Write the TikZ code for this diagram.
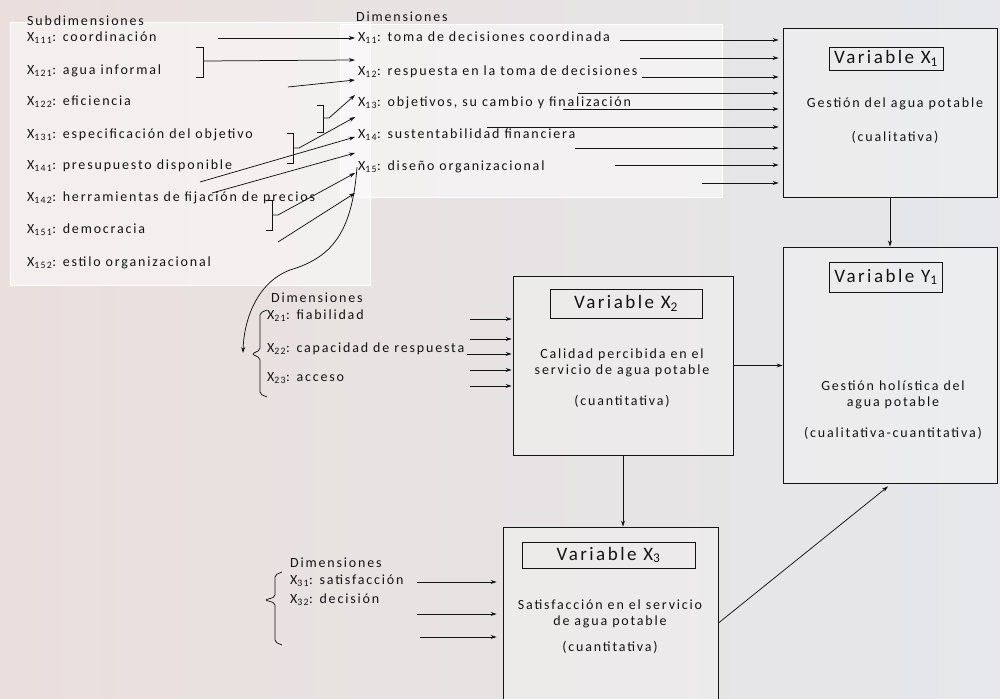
\documentclass[tikz,border=0pt]{standalone}
\usepackage{fontspec}
\setmainfont{Carlito}[LetterSpace=13]
\usetikzlibrary{arrows.meta}
\definecolor{ink}{HTML}{141414}
\definecolor{bgl}{HTML}{EADFDD}
\definecolor{bgr}{HTML}{E5E7EA}
\newcommand{\Xs}[1]{X\textsubscript{#1}}
\begin{document}
\begin{tikzpicture}[x=1pt,y=-1pt,
		txt/.style={anchor=west,inner sep=1pt,text=ink,font=\fontsize{14}{16}\selectfont},
		mid/.style={align=center,inner sep=1pt,text=ink,font=\fontsize{14}{16}\selectfont},
		bigbox/.style={draw=ink,line width=0.9pt,fill=white,fill opacity=0.25,inner sep=0pt},
		varbox/.style={draw=ink,line width=0.9pt,inner sep=0pt,text=ink,font=\fontsize{19}{20}\selectfont},
		panel/.style={fill=white,fill opacity=0.5,draw=white,line width=1pt},
		con/.style={draw=ink,line width=0.75pt},
		arr/.style={con,-{Stealth[length=6pt,width=4pt]}},
		brk/.style={con,line join=miter}
		]
		\clip (0,0) rectangle (1000,698);
		\shade[left color=bgl,right color=bgr] (0,0) rectangle (1000,698);
		\filldraw[panel] (10,23) rectangle (370,285);
		\filldraw[panel] (340,25) rectangle (722,197);
		
		% subdimensiones
		\node[txt] (s0) at (26,21) {Subdimensiones};
		\node[txt] (s1) at (26,38) {\Xs{111}: coordinación};
		\node[txt] (s2) at (26,71) {\Xs{121}: agua informal};
		\node[txt] (s3) at (26,102) {\Xs{122}: eficiencia};
		\node[txt] (s4) at (26,135) {\Xs{131}: especificación del objetivo};
		\node[txt] (s5) at (26,166) {\Xs{141}: presupuesto disponible};
		\node[txt] (s6) at (26,198) {\Xs{142}: herramientas de fijación de precios};
		\node[txt] (s7) at (26,230) {\Xs{151}: democracia};
		\node[txt] (s8) at (26,263) {\Xs{152}: estilo organizacional};
		
		% dimensiones de X1
		\node[txt] (d0) at (355,17) {Dimensiones};
		\node[txt] (d1) at (357,38) {\Xs{11}: toma de decisiones coordinada};
		\node[txt] (d2) at (357,72) {\Xs{12}: respuesta en la toma de decisiones};
		\node[txt] (d3) at (357,103) {\Xs{13}: objetivos, su cambio y finalización};
		\node[txt] (d4) at (357,135) {\Xs{14}: sustentabilidad financiera};
		\node[txt] (d5) at (357,167) {\Xs{15}: diseño organizacional};
		
		% variables
		\node[bigbox,minimum width=214pt,minimum height=169pt] (x1) at (890,112.5) {};
		\node[varbox,minimum width=114pt,minimum height=23pt] (x1lab) at (886,58.5) {Variable \Xs{1}};
		\node[mid] (x1txt) at (895,104) {Gestión del agua potable};
		\node[mid] (x1kind) at (895,137) {(cualitativa)};
		
		\node[bigbox,minimum width=214pt,minimum height=236pt] (y1) at (890,365) {};
		\node[varbox,minimum width=113pt,minimum height=30pt] (y1lab) at (886,277) {Variable Y\textsubscript{1}};
		\node[mid] (y1txt) at (893,395) {Gestión holística del\\agua potable};
		\node[mid] (y1kind) at (893,433) {(cualitativa-cuantitativa)};
		
		\node[bigbox,minimum width=220pt,minimum height=179pt] (x2) at (623,365.5) {};
		\node[varbox,minimum width=152pt,minimum height=29pt] (x2lab) at (626,303.5) {Variable \Xs{2}};
		\node[mid] (x2txt) at (622,362.5) {Calidad percibida en el\\servicio de agua potable};
		\node[mid] (x2kind) at (622,401) {(cuantitativa)};
		
		\node[bigbox,minimum width=215pt,minimum height=192pt] (x3) at (610.5,623) {};
		\node[varbox,minimum width=173pt,minimum height=26pt] (x3lab) at (608.5,555) {Variable \Xs{3}};
		\node[mid] (x3txt) at (610,613.5) {Satisfacción en el servicio\\de agua potable};
		\node[mid] (x3kind) at (610,647) {(cuantitativa)};
		
		% dimensiones de X2 y X3
		\node[txt] (e0) at (270,298) {Dimensiones};
		\node[txt] (e1) at (266,316) {\Xs{21}: fiabilidad};
		\node[txt] (e2) at (266,349) {\Xs{22}: capacidad de respuesta};
		\node[txt] (e3) at (266,378) {\Xs{23}: acceso};
		\node[txt] (f0) at (289,563) {Dimensiones};
		\node[txt] (f1) at (289,581) {\Xs{31}: satisfacción};
		\node[txt] (f2) at (289,600) {\Xs{32}: decisión};
		
		% corchetes
		\draw[brk] (196,47) -- (203,47) -- (203,77) -- (196,77);
		\draw[brk] (317,105) -- (323,105) -- (323,132) -- (317,132);
		\draw[brk] (287,133) -- (293,133) -- (293,163) -- (287,163);
		\draw[brk] (266,200) -- (272,200) -- (272,230) -- (266,230);
		\draw[brk,rounded corners=2pt] (267,310) -- (260,313) -- (260,350) -- (252,354) -- (260,358) -- (260,394) -- (267,397);
		\draw[brk,rounded corners=2pt] (282,572) -- (275,575) -- (275,597) -- (265,600) -- (275,603) -- (275,642) -- (282,645);
		\coordinate (b1) at (203,61);
		\coordinate (b2) at (323,118);
		\coordinate (b3) at (293,148);
		\coordinate (b4) at (272,215);
		
		% flechas hacia las dimensiones
		\foreach \n/\y in {1/38,2/60,3/80,4/95,5/117,6/137,7/153,8/173,9/193}
		\coordinate (in\n) at (355,\y);
		\coordinate (a1) at (218,38);
		\coordinate (a3) at (288,87);
		\coordinate (a6) at (200,182);
		\coordinate (a7) at (212,193);
		\coordinate (a9) at (278,242);
		\draw[arr] (a1) -- (in1);
		\draw[arr] (b1) -- (in2);
		\draw[arr] (a3) -- (in3);
		\draw[arr] (b2) -- ++(6,0) -- (in4);
		\draw[arr] (b3) -- ++(6,0) -- (in5);
		\draw[arr] (a6) -- (in6);
		\draw[arr] (a7) -- (in7);
		\draw[arr] (b4) -- ++(6,0) -- (in8);
		\draw[arr] (a9) -- (in9);
		
		% flechas hacia X1
		\foreach \n/\y/\s in {1/40/620,2/58/640,3/77/642,4/93/578,5/109/563,6/127/487,7/148/575,8/165/615,9/183/702}{
			\coordinate (o\n) at (\s,\y);
			\draw[arr,shorten >=4pt] (o\n) -- (o\n -| x1.west);
		}
		
		% curva hacia X2
		\coordinate (k2) at (243,353);
		\draw[arr] (d5.west) .. controls (352,235) and (330,258) .. (290,270) .. controls (258,282) and (244,318) .. (k2);
		
		% flechas hacia X2 y X3
		\foreach \n/\y/\s in {1/319/470,2/339/470,3/354/467,4/370/470,5/386/470}{
			\coordinate (p\n) at (\s,\y);
			\draw[arr,shorten >=1pt] (p\n) -- (p\n -| x2.west);
		}
		\foreach \n/\y/\s in {1/582/417,2/614/417,3/637/420}{
			\coordinate (q\n) at (\s,\y);
			\draw[arr,shorten >=6pt] (q\n) -- (q\n -| x3.west);
		}
		
		% entre variables
		\draw[arr] (x1.south) -- (y1.north);
		\draw[arr] (x2.east) -- (x2.east -| y1.west);
		\draw[arr] (x2.south) -- (x2.south |- x3.north);
		\draw[arr] (x3.east) -- ([xshift=-2pt,yshift=-3pt]y1.south);
\end{tikzpicture}
\end{document}
